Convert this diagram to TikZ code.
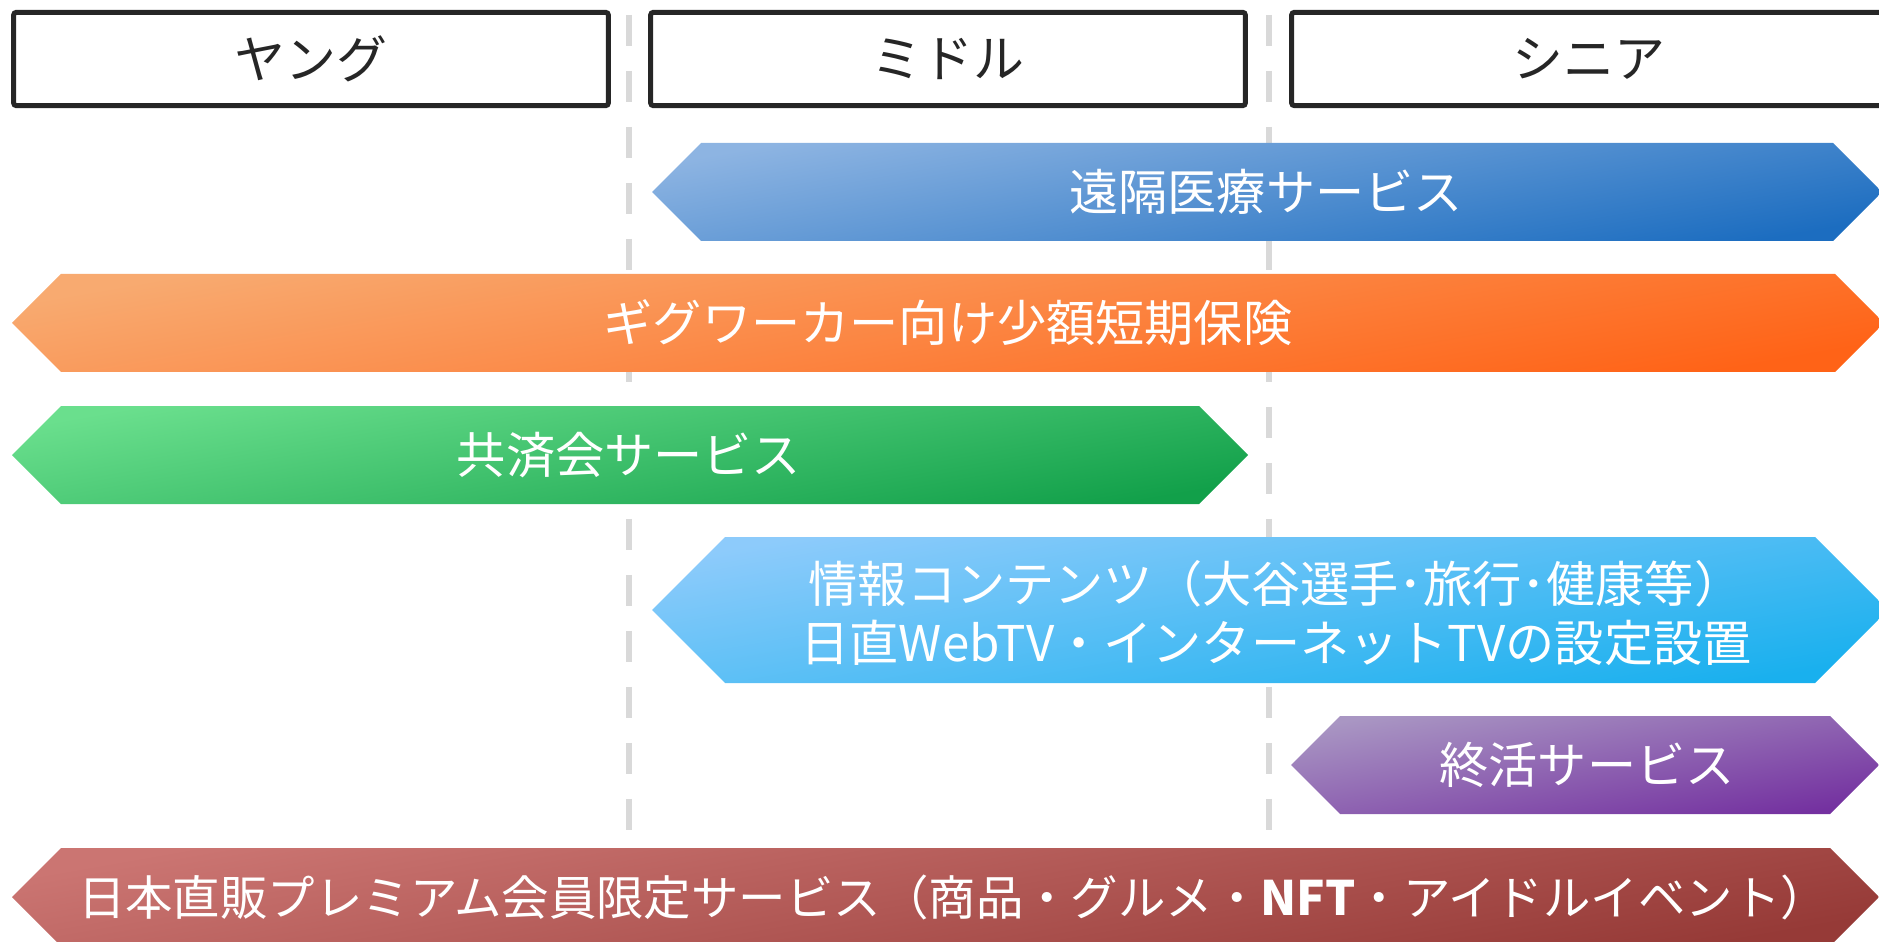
\documentclass[tikz,border=0pt]{standalone}
\usepackage{fontspec}
\setmainfont{Noto Sans CJK JP}
\definecolor{headline}{HTML}{262626}
\definecolor{dashgray}{HTML}{D9D9D9}
\definecolor{blueA}{HTML}{8DB4E2}
\definecolor{blueB}{HTML}{1C6DC0}
\definecolor{orangeA}{HTML}{F8AA70}
\definecolor{orangeB}{HTML}{FF6317}
\definecolor{greenA}{HTML}{6ADF8D}
\definecolor{greenB}{HTML}{12A04A}
\definecolor{skyA}{HTML}{8DCBFB}
\definecolor{skyB}{HTML}{19B0EE}
\definecolor{purpleA}{HTML}{A996C3}
\definecolor{purpleB}{HTML}{7431A0}
\definecolor{redA}{HTML}{CB7572}
\definecolor{redB}{HTML}{963A37}

\begin{document}
\begin{tikzpicture}[x=0.02cm, y=-0.02cm,
	headbox/.style={draw=headline, line width=0.1cm, rounded corners=0.06cm, minimum width=11.9cm, minimum height=1.87cm, text=headline, font=\fontsize{29pt}{34pt}\selectfont},
	divider/.style={draw=dashgray, line width=0.12cm, dash pattern=on 0.62cm off 0.5cm},
	band/.style 2 args={top color=#1, bottom color=#2, shading angle=10, draw=none},
	bandtext/.style={text=white, align=center, font=\fontsize{28pt}{34pt}\selectfont}]
	\useasboundingbox (0,0) rectangle (1879,942);
	\clip (0,0) rectangle (1879,942);
	% age columns
	\draw [divider] (629,15) -- (629,848);
	\draw [divider] (1269,15) -- (1269,848);
	\node [headbox] (young) at (311,59) {ヤング};
	\node [headbox] (middle) at (948,59) {ミドル};
	\node [headbox] (senior) at (1589,59) {シニア};
	% services
	\shade [band={blueA}{blueB}] (652,192) -- (701,143) -- (1833,143) -- (1882,192) -- (1833,241) -- (701,241) -- cycle;
	\node [bandtext] (remote) at (1266,192) {遠隔医療サービス};
	\shade [band={orangeA}{orangeB}] (12,323) -- (61,274) -- (1835,274) -- (1884,323) -- (1835,372) -- (61,372) -- cycle;
	\node [bandtext] (gig) at (948,323) {ギグワーカー向け少額短期保険};
	\shade [band={greenA}{greenB}] (12,455) -- (61,406) -- (1199,406) -- (1248,455) -- (1199,504) -- (61,504) -- cycle;
	\node [bandtext] (mutual) at (629,455) {共済会サービス};
	\shade [band={skyA}{skyB}] (652,610) -- (725,537) -- (1815,537) -- (1888,610) -- (1815,683) -- (725,683) -- cycle;
	\node [bandtext] (info) at (1276,613) {情報コンテンツ（大谷選手･旅行･健康等）\\日直WebTV・インターネットTVの設定設置};
	\shade [band={purpleA}{purpleB}] (1291,765) -- (1340,716) -- (1830,716) -- (1879,765) -- (1830,814) -- (1340,814) -- cycle;
	\node [bandtext] (ending) at (1587,765) {終活サービス};
	\shade [band={redA}{redB}] (12,897) -- (61,848) -- (1830,848) -- (1879,897) -- (1830,946) -- (61,946) -- cycle;
	\node [bandtext, font=\fontsize{27pt}{34pt}\selectfont] (premium) at (953,897) {日本直販プレミアム会員限定サービス（商品・グルメ・\textbf{NFT}・アイドルイベント）};
\end{tikzpicture}
\end{document}
